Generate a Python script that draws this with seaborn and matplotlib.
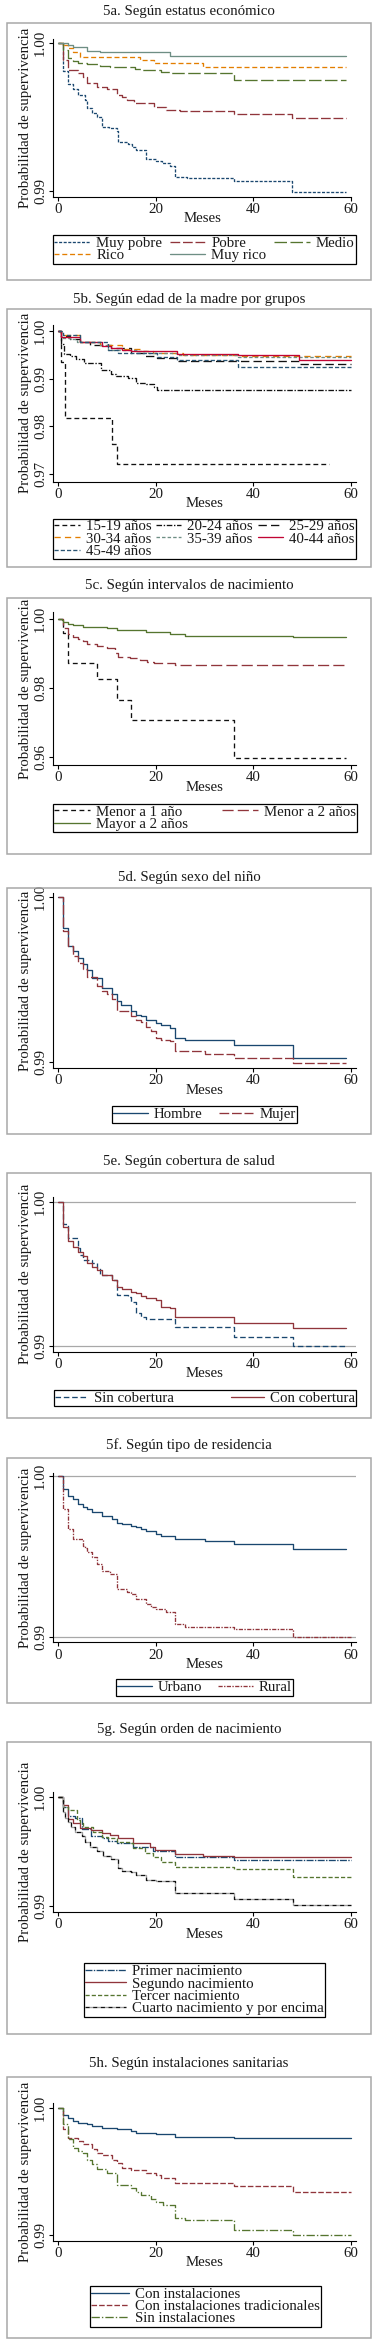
import matplotlib
matplotlib.use('Agg')
import matplotlib.pyplot as plt
from matplotlib.patches import Rectangle
import seaborn as sns

sns.set_theme(style='white')
plt.rcParams['font.family'] = ['Liberation Serif', 'DejaVu Serif']
plt.rcParams['lines.scale_dashes'] = False
for k in ['text.color', 'axes.labelcolor', 'xtick.color', 'ytick.color']:
    plt.rcParams[k] = '#1a1a1a'

# ---------------- data (months, survival probability) ----------------
# 5a
muy_pobre_t = [0, 1, 2, 3, 4, 5.5, 6, 7, 8, 9, 10.5, 12, 12.3, 14.4, 15.2, 16, 18, 20, 21.3, 23, 24, 26.3, 36, 48, 59]
muy_pobre_s = [1.0, 0.99813, 0.99725, 0.99688, 0.99650, 0.99616, 0.99560, 0.99530, 0.99503, 0.99436, 0.99424, 0.99409, 0.99334, 0.99318, 0.99300, 0.99278, 0.99214, 0.99203, 0.99187, 0.99172, 0.99097, 0.99086, 0.99068, 0.98995, 0.98995]
pobre_t = [0, 1, 2, 4, 5, 6, 8, 10, 12, 13, 14, 15.5, 19.6, 22, 25, 36, 48, 59]
pobre_s = [1.0, 0.99887, 0.99819, 0.99801, 0.99770, 0.99734, 0.99707, 0.99688, 0.99650, 0.99639, 0.99616, 0.99594, 0.99567, 0.99549, 0.99542, 0.99519, 0.99492, 0.99492]
medio_t = [0, 1, 2, 3, 4, 6, 8.5, 10.6, 15.7, 17, 21, 23, 36, 59]
medio_s = [1.0, 0.99955, 0.99898, 0.99880, 0.99865, 0.99858, 0.99847, 0.99842, 0.99826, 0.99819, 0.99808, 0.99797, 0.99752, 0.99752]
rico_t = [0, 1, 2, 3, 4.5, 16.7, 19.6, 29.7, 59]
rico_s = [1.0, 0.99989, 0.99966, 0.99939, 0.99910, 0.99887, 0.99865, 0.99842, 0.99842]
muy_rico_t = [0, 2, 3, 6, 8.5, 23, 59]
muy_rico_s = [1.0, 0.99989, 0.99977, 0.99948, 0.99941, 0.99914, 0.99914]

# 5b
e15_t = [0, 0.5, 1.4, 11, 12, 55.4]
e15_s = [1.0, 0.9936, 0.9818, 0.9762, 0.9720, 0.9720]
e20_t = [0, 0.5, 1.2, 2.5, 3.6, 5.3, 8.7, 10.8, 11.8, 14.2, 16, 18, 19.6, 20.3, 60]
e20_s = [1.0, 0.9973, 0.9953, 0.9948, 0.9941, 0.9934, 0.9918, 0.9911, 0.9906, 0.9901, 0.9892, 0.9889, 0.9883, 0.98755, 0.98755]
e25_t = [0, 0.6, 2.4, 4.4, 6.5, 10.9, 15, 17.8, 20.2, 24.3, 49.4, 60]
e25_s = [1.0, 0.9990, 0.9983, 0.9978, 0.9970, 0.99643, 0.99539, 0.99469, 0.99434, 0.99370, 0.99310, 0.99310]
e30_t = [0, 0.6, 4.4, 8.5, 13, 17, 19.5, 25.6, 36.9, 60]
e30_s = [1.0, 0.99916, 0.99776, 0.99706, 0.99623, 0.99588, 0.99532, 0.99497, 0.99470, 0.99470]
e35_t = [0, 0.6, 2.4, 3.8, 8.5, 10.2, 16.4, 18.4, 24.3, 36.9, 60]
e35_s = [1.0, 0.99860, 0.99830, 0.99776, 0.99706, 0.99615, 0.99580, 0.99546, 0.99497, 0.99460, 0.99460]
e40_t = [0, 0.55, 4.4, 8.9, 10.9, 13, 15, 24.3, 36.9, 49.4, 60]
e40_s = [1.0, 0.99874, 0.99769, 0.99699, 0.99657, 0.99608, 0.99587, 0.99525, 0.99504, 0.99395, 0.99395]
e45_t = [0, 1, 4.4, 10.2, 12.3, 20.2, 24.3, 36.9, 60]
e45_s = [1.0, 0.99930, 0.99776, 0.99615, 0.99532, 0.99462, 0.99385, 0.99250, 0.99250]

# 5c
m1_t = [0, 1, 2, 8, 12, 15, 36, 59]
m1_s = [1.0, 0.9958, 0.9871, 0.9825, 0.9764, 0.9707, 0.9595, 0.9595]
m2_t = [0, 1, 2, 3, 4, 5, 6, 8, 10, 11.6, 12.3, 14.7, 16.7, 18.1, 19.6, 23.9, 59]
m2_s = [1.0, 0.99748, 0.99554, 0.99487, 0.99409, 0.99370, 0.99274, 0.99225, 0.99148, 0.99003, 0.98906, 0.98857, 0.98809, 0.98760, 0.98712, 0.98663, 0.98663]
may2_t = [0, 0.7, 1, 2, 3, 5, 6.5, 10, 12, 18, 23, 26, 48, 59]
may2_s = [1.0, 0.99971, 0.99903, 0.99855, 0.99826, 0.99777, 0.99758, 0.99729, 0.99680, 0.99613, 0.99564, 0.99516, 0.99487, 0.99487]

# 5d
hombre_t = [0, 1, 2, 3, 4, 5, 6, 7, 9, 11, 12, 12.8, 15, 16, 17, 18, 20, 21, 23, 24, 26, 36, 48, 59]
hombre_s = [1.0, 0.99814, 0.99702, 0.99672, 0.99632, 0.99595, 0.99561, 0.99510, 0.99449, 0.99413, 0.99372, 0.99344, 0.99308, 0.99287, 0.99277, 0.99253, 0.99237, 0.99227, 0.99206, 0.99146, 0.99132, 0.99105, 0.99024, 0.99024]
mujer_t = [0, 1, 2, 3, 4, 5, 6, 8, 9, 10, 11, 12, 15, 16, 17, 18, 19, 20, 21, 23, 24, 30, 36, 48, 59]
mujer_s = [1.0, 0.99794, 0.99702, 0.99642, 0.99601, 0.99565, 0.99514, 0.99460, 0.99429, 0.99413, 0.99383, 0.99312, 0.99277, 0.99257, 0.99243, 0.99211, 0.99186, 0.99146, 0.99136, 0.99126, 0.99065, 0.99051, 0.99024, 0.98994, 0.98994]

# 5e
sin_cob_t = [0, 1, 2, 4, 4.4, 5, 7, 8, 8.5, 11, 12, 14.4, 15, 16, 17, 18, 24, 36, 48, 59]
sin_cob_s = [1.0, 0.99849, 0.99749, 0.99680, 0.99633, 0.99599, 0.99575, 0.99541, 0.99494, 0.99459, 0.99355, 0.99343, 0.99309, 0.99227, 0.99204, 0.99186, 0.99135, 0.99065, 0.99000, 0.99000]
con_cob_t = [0, 1, 2, 3, 4, 5, 6, 7, 8, 9, 11, 12, 13, 15, 16, 17, 18, 20, 21, 23, 24, 26, 36, 48, 59]
con_cob_s = [1.0, 0.99826, 0.99731, 0.99691, 0.99657, 0.99626, 0.99575, 0.99552, 0.99529, 0.99494, 0.99459, 0.99413, 0.99394, 0.99378, 0.99367, 0.99348, 0.99332, 0.99320, 0.99274, 0.99262, 0.99204, 0.99200, 0.99162, 0.99123, 0.99123]

# 5f
urbano_t = [0, 1, 2, 3, 4, 5, 6, 7, 9, 11, 12, 13, 15, 16, 17, 18, 20, 21, 24, 30, 36, 48, 59]
urbano_s = [1.0, 0.99919, 0.99876, 0.99857, 0.99826, 0.99810, 0.99795, 0.99779, 0.99752, 0.99733, 0.99707, 0.99700, 0.99690, 0.99682, 0.99671, 0.99659, 0.99640, 0.99628, 0.99609, 0.99597, 0.99579, 0.99548, 0.99548]
rural_t = [0, 1, 2, 3, 5, 5.5, 6, 7, 8, 9, 10.6, 12, 14, 15, 16, 18, 19, 20, 22, 24, 26, 36, 48, 60]
rural_s = [1.0, 0.99795, 0.99671, 0.99609, 0.99568, 0.99552, 0.99527, 0.99496, 0.99452, 0.99411, 0.99390, 0.99298, 0.99279, 0.99267, 0.99236, 0.99207, 0.99186, 0.99174, 0.99159, 0.99083, 0.99066, 0.99050, 0.99000, 0.99000]

# 5g
primer_t = [0, 1, 2, 3.4, 4.8, 6.8, 9, 10.3, 12, 15.4, 19.5, 24, 36, 60]
primer_s = [1.0, 0.99907, 0.99827, 0.99805, 0.99704, 0.99643, 0.99627, 0.99600, 0.99575, 0.99544, 0.99504, 0.99452, 0.99421, 0.99421]
segundo_t = [0, 1, 2, 3, 4.5, 6.8, 8.9, 10.6, 12.3, 15.4, 18.8, 19.8, 24, 29.7, 36, 60]
segundo_s = [1.0, 0.99929, 0.99796, 0.99759, 0.99713, 0.99698, 0.99667, 0.99652, 0.99621, 0.99575, 0.99544, 0.99513, 0.99477, 0.99458, 0.99452, 0.99452]
tercer_t = [0, 1, 2, 3.8, 4.5, 5.1, 7.2, 8.9, 10.3, 12, 14.7, 15.4, 17.8, 19.5, 21, 24, 36, 48, 60]
tercer_s = [1.0, 0.99913, 0.99882, 0.99790, 0.99759, 0.99729, 0.99676, 0.99637, 0.99621, 0.99591, 0.99575, 0.99529, 0.99483, 0.99452, 0.99406, 0.99354, 0.99338, 0.99262, 0.99262]
cuarto_t = [0, 1, 1.4, 2, 2.7, 3.4, 4.8, 5.5, 6.5, 7.9, 9.2, 10.9, 12.3, 13, 15, 16, 18, 20, 24, 36, 48, 60]
cuarto_s = [1.0, 0.99860, 0.99810, 0.99770, 0.99725, 0.99680, 0.99640, 0.99590, 0.99540, 0.99505, 0.99460, 0.99430, 0.99348, 0.99317, 0.99308, 0.99286, 0.99240, 0.99225, 0.99117, 0.99062, 0.99003, 0.99003]

# 5h
con_inst_t = [0, 1, 2, 3, 4, 6, 7, 9, 12, 15, 16, 20, 24, 36, 60]
con_inst_s = [1.0, 0.99947, 0.99921, 0.99903, 0.99882, 0.99876, 0.99863, 0.99842, 0.99834, 0.99821, 0.99803, 0.99795, 0.99776, 0.99763, 0.99763]
trad_t = [0, 1, 2, 4, 5, 7, 8, 9, 11, 12, 13, 15, 18, 20, 21, 24, 36, 48, 60]
trad_s = [1.0, 0.99834, 0.99763, 0.99745, 0.99716, 0.99676, 0.99650, 0.99632, 0.99597, 0.99566, 0.99532, 0.99513, 0.99487, 0.99474, 0.99455, 0.99408, 0.99389, 0.99337, 0.99337]
sin_inst_t = [0, 1, 2, 3, 4, 5, 6, 7, 8, 10, 12, 15, 16, 17, 19, 20, 21.5, 24, 26, 36, 48, 60]
sin_inst_s = [1.0, 0.99874, 0.99758, 0.99684, 0.99663, 0.99645, 0.99592, 0.99561, 0.99526, 0.99492, 0.99395, 0.99376, 0.99342, 0.99316, 0.99289, 0.99263, 0.99237, 0.99137, 0.99124, 0.99045, 0.99000, 0.99000]

titles = ['5a. Según estatus económico', '5b. Según edad de la madre por grupos',
          '5c. Según intervalos de nacimiento', '5d. Según sexo del niño',
          '5e. Según cobertura de salud', '5f. Según tipo de residencia',
          '5g. Según orden de nacimiento', '5h. Según instalaciones sanitarias']
x_ticks = [0, 20, 40, 60]
x_label = 'Meses'
y_label = 'Probabilidad de supervivencia'

# ---------------- styles ----------------
NAVY, MAROON, GREEN = '#1a476f', '#90353b', '#55752f'
ORANGE, TEAL, CRAN, BLACK = '#e37e00', '#6e8e84', '#c10534', '#111111'
SOLID = '-'
def dash(*p):
    return (0, tuple(p))

W, H = 375, 2345
fig = plt.figure(figsize=(W / 100, H / 100), dpi=100)

# calibrate the font size so text widths match the reference (px)
_r = fig.canvas.get_renderer()
_probe = fig.text(0, 0, titles[0], fontsize=10)
_w1 = _probe.get_window_extent(_r).width
_probe.set_text(y_label)
_w2 = _probe.get_window_extent(_r).width
_probe.remove()
FS = 10 * 0.5 * (173 / _w1 + 180 / _w2)


def panel(title, title_y, box, axrect, xlim, ylim, yticks, series, leg_rect, ncol,
          order, expand, grid=False, hl=2.4, colsp=1.0):
    l, t, r, b = box
    fig.add_artist(Rectangle((l / W, 1 - b / H), (r - l) / W, (b - t) / H,
                             transform=fig.transFigure, fill=False,
                             ec='#a8a8a8', lw=1.1))
    fig.text(189 / W, 1 - title_y / H, title, ha='center', va='center', fontsize=FS)
    al, at, ar, ab = axrect
    ax = fig.add_axes([al / W, 1 - ab / H, (ar - al) / W, (ab - at) / H])
    ax.patch.set_alpha(0)
    if grid:
        for v in yticks:
            ax.axhline(v, color='#a8a8a8', lw=0.9, zorder=0)
    for (xs, ys, lab, col, ls, extra) in series:
        sns.lineplot(x=xs, y=ys, ax=ax, drawstyle='steps-post', color=col,
                     linestyle=ls, lw=0.95, label=lab, errorbar=None, **extra)
    ax.set_xlim(*xlim)
    ax.set_ylim(*ylim)
    ax.set_xticks(x_ticks)
    ax.set_xticklabels([str(v) for v in x_ticks])
    ax.set_yticks(yticks)
    ax.set_yticklabels([f'{v:.2f}' for v in yticks])
    for sp in ['top', 'right']:
        ax.spines[sp].set_visible(False)
    for sp in ['left', 'bottom']:
        ax.spines[sp].set_color('black')
        ax.spines[sp].set_linewidth(0.8)
    ax.tick_params(axis='both', direction='out', length=3, width=0.8, color='black',
                   labelsize=FS, pad=1.5, bottom=True, left=True)
    ax.tick_params(axis='y', labelrotation=90)
    for lab in ax.get_yticklabels():
        lab.set_va('center')
    ax.set_xlabel(x_label, fontsize=FS, labelpad=-2.5)
    ax.set_ylabel(y_label, fontsize=FS, labelpad=1.5)
    handles, labels = ax.get_legend_handles_labels()
    handles = [handles[i] for i in order]
    labels = [labels[i] for i in order]
    ll, lt, lr, lb = leg_rect
    leg = ax.legend(handles, labels, ncol=ncol, loc='center',
                    bbox_to_anchor=(ll / W, 1 - lb / H, (lr - ll) / W, (lb - lt) / H),
                    bbox_transform=fig.transFigure, mode='expand' if expand else None,
                    frameon=True, fancybox=False, edgecolor='black', framealpha=1,
                    fontsize=FS, borderpad=0.1, labelspacing=-0.08, handlelength=hl,
                    handletextpad=0.4, columnspacing=colsp, borderaxespad=0)
    leg.get_frame().set_linewidth(0.9)
    return ax


N = {}
panel(titles[0], 11, (7, 23, 371, 280), (53.3, 39.3, 351, 196.7), (-1, 60),
      (0.98961, 1.00027), [0.99, 1.00],
      [(muy_pobre_t, muy_pobre_s, 'Muy pobre', NAVY, dash(2.2, 1.1), N),
       (pobre_t, pobre_s, 'Pobre', MAROON, dash(7, 2), N),
       (medio_t, medio_s, 'Medio', GREEN, dash(9, 2.5), N),
       (rico_t, rico_s, 'Rico', ORANGE, dash(3.6, 2), N),
       (muy_rico_t, muy_rico_s, 'Muy rico', TEAL, SOLID, N)],
      (53, 233, 356, 266), 3, [0, 3, 1, 4, 2], True)

panel(titles[1], 300, (7, 309, 371, 567), (53.3, 325, 356, 481.7), (-1, 61),
      (0.96838, 1.0013), [0.97, 0.98, 0.99, 1.00],
      [(e15_t, e15_s, '15-19 años', BLACK, dash(3.5, 2.2), N),
       (e20_t, e20_s, '20-24 años', BLACK, dash(4, 1.2, 1, 1.2), N),
       (e25_t, e25_s, '25-29 años', BLACK, dash(6, 3), N),
       (e30_t, e30_s, '30-34 años', ORANGE, dash(4.5, 3), N),
       (e35_t, e35_s, '35-39 años', TEAL, dash(2.5, 1.5), N),
       (e40_t, e40_s, '40-44 años', CRAN, SOLID, N),
       (e45_t, e45_s, '45-49 años', '#2a5573', dash(3, 1.5), N)],
      (53, 515, 356, 563), 3, [0, 3, 6, 1, 4, 2, 5], True, hl=1.7)

panel(titles[2], 586, (7, 598, 371, 854), (53.3, 612, 356, 765), (-1, 61),
      (0.9576, 1.002), [0.96, 0.98, 1.00],
      [(m1_t, m1_s, 'Menor a 1 año', BLACK, dash(3.5, 2.5), N),
       (m2_t, m2_s, 'Menor a 2 años', MAROON, dash(8, 3), N),
       (may2_t, may2_s, 'Mayor a 2 años', GREEN, SOLID, N)],
      (53, 802, 357, 834), 2, [0, 2, 1], True)

panel(titles[3], 878, (7, 888, 371, 1134), (53.3, 893, 356, 1068), (-1, 61),
      (0.98964, 1.00026), [0.99, 1.00],
      [(hombre_t, hombre_s, 'Hombre', NAVY, SOLID, N),
       (mujer_t, mujer_s, 'Mujer', MAROON, dash(7, 2), N)],
      (107, 1105, 302, 1124), 2, [0, 1], False, hl=2.3, colsp=1.1)

panel(titles[4], 1161, (7, 1173, 371, 1418), (53.3, 1196.7, 356, 1351.7), (-1, 61),
      (0.98960, 1.00039), [0.99, 1.00],
      [(sin_cob_t, sin_cob_s, 'Sin cobertura', NAVY, dash(4, 2), N),
       (con_cob_t, con_cob_s, 'Con cobertura', MAROON, SOLID, N)],
      (54, 1388, 356, 1408), 2, [0, 1], True, grid=True, hl=2.2)

panel(titles[5], 1445, (7, 1458, 371, 1703), (53.3, 1473, 356, 1642.3), (-1, 61),
      (0.98969, 1.00019), [0.99, 1.00],
      [(urbano_t, urbano_s, 'Urbano', NAVY, SOLID, N),
       (rural_t, rural_s, 'Rural', MAROON, dash(3, 1, 1, 1), N)],
      (107, 1678, 302, 1697), 2, [0, 1], False, grid=True, hl=2.3, colsp=1.1)

panel(titles[6], 1729, (7, 1742, 371, 2034), (53.3, 1792, 356, 1912), (-1, 61),
      (0.98942, 1.00049), [0.99, 1.00],
      [(primer_t, primer_s, 'Primer nacimiento', NAVY, dash(5, 1, 1, 1), N),
       (segundo_t, segundo_s, 'Segundo nacimiento', MAROON, SOLID, N),
       (tercer_t, tercer_s, 'Tercer nacimiento', GREEN, dash(3, 1.5), N),
       (cuarto_t, cuarto_s, 'Cuarto nacimiento y por encima', BLACK, dash(3, 2.5),
        {'gapcolor': '#a0a0a0'})],
      (74, 1955, 335, 2025), 1, [0, 1, 2, 3], False, hl=2.7)

panel(titles[7], 2064, (7, 2077, 371, 2338), (53.3, 2103.3, 356, 2240.7), (-1, 61),
      (0.98957, 1.0004), [0.99, 1.00],
      [(con_inst_t, con_inst_s, 'Con instalaciones', NAVY, SOLID, N),
       (trad_t, trad_s, 'Con instalaciones tradicionales', MAROON, dash(4, 1.5), N),
       (sin_inst_t, sin_inst_s, 'Sin instalaciones', GREEN, dash(6, 1.5, 1, 1.5), N)],
      (73, 2281, 338, 2332), 1, [0, 1, 2], False, hl=2.5)

fig.savefig('out.png', dpi=100, facecolor='white')
